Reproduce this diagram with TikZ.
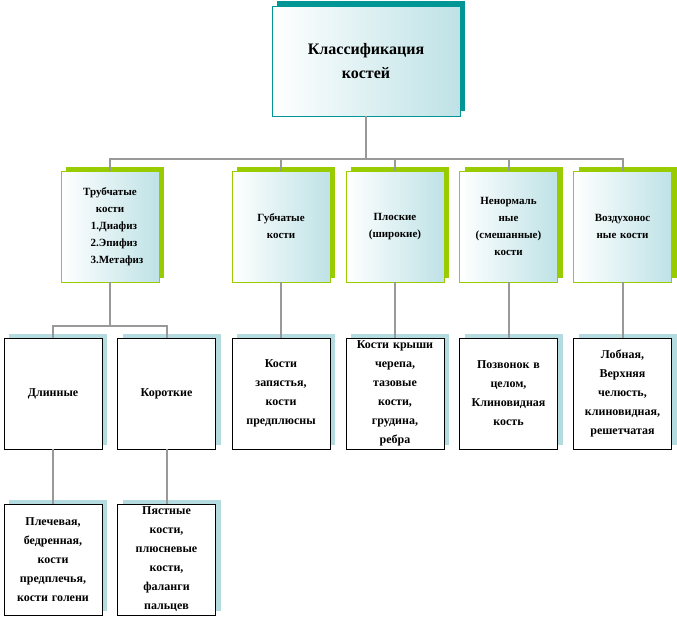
\documentclass[tikz,border=0pt]{standalone}
\usepackage{fontspec}
\setmainfont{Liberation Serif}
\usetikzlibrary{shadows}
\definecolor{tealdark}{RGB}{0,150,150}
\definecolor{limegr}{RGB}{153,204,0}
\definecolor{paleblue}{RGB}{180,220,224}
\definecolor{mist}{RGB}{190,226,230}
\tikzset{
  box/.style={draw, rectangle, inner sep=1pt, align=center, font=\bfseries\fontsize{11}{17}\selectfont,
    minimum width=98pt, minimum height=111pt, text width=96pt},
  rootbox/.style={box, draw=tealdark, left color=white, right color=mist, minimum width=188pt, minimum height=110pt,
    text width=186pt, font=\bfseries\fontsize{16}{24}\selectfont,
    copy shadow={shadow xshift=5pt, shadow yshift=5pt, fill=tealdark, draw=none}},
  catbox/.style={box, draw=limegr, left color=white, right color=mist,
    copy shadow={shadow xshift=5pt, shadow yshift=4pt, fill=limegr, draw=none}},
  leafbox/.style={box, draw=black, fill=white, font=\bfseries\fontsize{12}{19}\selectfont,
    copy shadow={shadow xshift=5pt, shadow yshift=4pt, fill=paleblue, draw=none}},
  link/.style={draw=gray!80, line width=2pt}
}
\begin{document}
\begin{tikzpicture}[x=1pt, y=-1pt]
  \useasboundingbox (0,0) rectangle (677,619);

  % Root
  \node[rootbox] (root) at (366,61) {Классификация\\костей};

  % Categories
  \node[catbox] (tube)  at (110,226.5) {Трубчатые\\кости\\\hspace*{8pt}1.Диафиз\\\hspace*{8pt}2.Эпифиз\\\hspace*{14pt}3.Метафиз};
  \node[catbox] (spong) at (281,226.5) {Губчатые\\кости};
  \node[catbox] (flat)  at (395,226.5) {Плоские\\(широкие)};
  \node[catbox] (mixed) at (508.5,226.5) {Ненормаль\\ные\\(смешанные)\\кости};
  \node[catbox] (air)   at (622.5,226.5) {Воздухонос\\ные кости};

  % Second row
  \node[leafbox] (long)  at (53,393.5) {Длинные};
  \node[leafbox] (short) at (166.5,393.5) {Короткие};
  \node[leafbox] (wrist) at (281,393.5) {Кости\\запястья,\\кости\\предплюсны};
  \node[leafbox] (skull) at (395,393.5) {Кости крыши\\черепа,\\тазовые\\кости,\\грудина,\\ребра};
  \node[leafbox] (vert)  at (508.5,393.5) {Позвонок в\\целом,\\Клиновидная\\кость};
  \node[leafbox] (front) at (622.5,393.5) {Лобная,\\Верхняя\\челюсть,\\клиновидная,\\решетчатая};

  % Third row
  \node[leafbox] (shoul) at (53,559.5) {Плечевая,\\бедренная,\\кости\\предплечья,\\кости голени};
  \node[leafbox] (meta)  at (166.5,559.5) {Пястные\\кости,\\плюсневые\\кости,\\фаланги\\пальцев};

  % Connectors
  \coordinate (bus) at (366,159);
  \coordinate (tbus) at (110,326);
  \draw[link] (root) -- (bus);
  \foreach \n in {tube,spong,flat,mixed,air}
    \draw[link] (bus) -| (\n.north);
  \draw[link] (tube) -- (tbus);
  \foreach \n in {long,short}
    \draw[link] (tbus) -| (\n.north);
  \draw[link] (spong) -- (wrist);
  \draw[link] (flat) -- (skull);
  \draw[link] (mixed) -- (vert);
  \draw[link] (air) -- (front);
  \draw[link] (long) -- (shoul);
  \draw[link] (short) -- (meta);
\end{tikzpicture}
\end{document}
